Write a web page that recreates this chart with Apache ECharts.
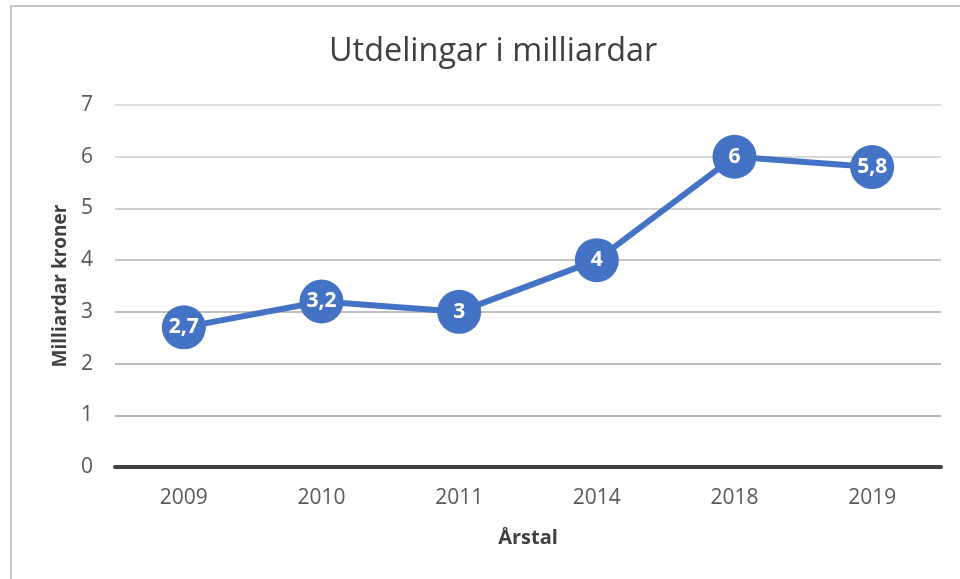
<!DOCTYPE html>
<html>
<head>
<meta charset="utf-8">
<script src="https://cdn.jsdelivr.net/npm/echarts@6/dist/echarts.min.js"></script>
<style>
html,body{margin:0;padding:0;background:#fff;}
#chart{width:960px;height:579px;}
</style>
</head>
<body>
<div id="chart"></div>
<script>
const categories = ['2009', '2010', '2011', '2014', '2018', '2019'];
const values = [2.7, 3.2, 3, 4, 6, 5.8];
const yTicks = [0, 1, 2, 3, 4, 5, 6, 7];

const FONT = '"Open Sans", "Noto Sans", sans-serif';
const chart = echarts.init(document.getElementById('chart'), null, {renderer: 'canvas'});
chart.setOption({
  backgroundColor: '#fff',
  animation: false,
  graphic: [{
    type: 'rect',
    shape: {x: 11, y: 6, width: 1000, height: 700},
    style: {fill: 'none', stroke: '#c8c8c8', lineWidth: 2},
    z: 0
  }],
  title: {
    text: 'Utdelingar i milliardar',
    left: 324,
    top: 31,
    textStyle: {fontFamily: FONT, fontSize: 32.4, fontWeight: 'normal', color: '#404040'}
  },
  grid: {left: 115, right: 19, top: 105, bottom: 112},
  xAxis: {
    type: 'category',
    data: categories,
    boundaryGap: true,
    name: 'Årstal',
    nameLocation: 'middle',
    nameGap: 71,
    nameTextStyle: {fontFamily: FONT, fontSize: 20, fontWeight: 'bold', color: '#404040', verticalAlign: 'middle'},
    axisLine: {show: true, lineStyle: {color: '#404040', width: 4}},
    axisTick: {show: false},
    axisLabel: {fontFamily: FONT, fontSize: 21, color: '#595959', margin: 21}
  },
  yAxis: {
    type: 'value',
    min: yTicks[0],
    max: yTicks[yTicks.length - 1],
    interval: 1,
    name: 'Milliardar kroner',
    nameLocation: 'middle',
    nameGap: 53,
    nameTextStyle: {fontFamily: FONT, fontSize: 19, fontWeight: 'bold', color: '#404040', verticalAlign: 'middle'},
    axisLine: {show: false},
    axisTick: {show: false},
    axisLabel: {fontFamily: FONT, fontSize: 21, color: '#595959', margin: 22},
    splitLine: {show: true, lineStyle: {width: 2, color: ['#404040', '#b4b4b4', '#bababa', '#c0c0c0', '#c8c8c8', '#d0d0d0', '#d8d8d8', '#e0e0e0']}}
  },
  series: [{
    type: 'line',
    data: values,
    symbol: 'circle',
    symbolSize: 44,
    z: 5,
    lineStyle: {color: '#4472C4', width: 6},
    itemStyle: {color: '#4472C4', borderColor: '#4472C4', borderWidth: 0},
    label: {
      show: true,
      position: 'inside',
      formatter: p => String(p.value).replace('.', ','),
      fontFamily: FONT,
      fontSize: 21,
      fontWeight: 'bold',
      color: '#ffffff'
    }
  }]
});
</script>
</body>
</html>
